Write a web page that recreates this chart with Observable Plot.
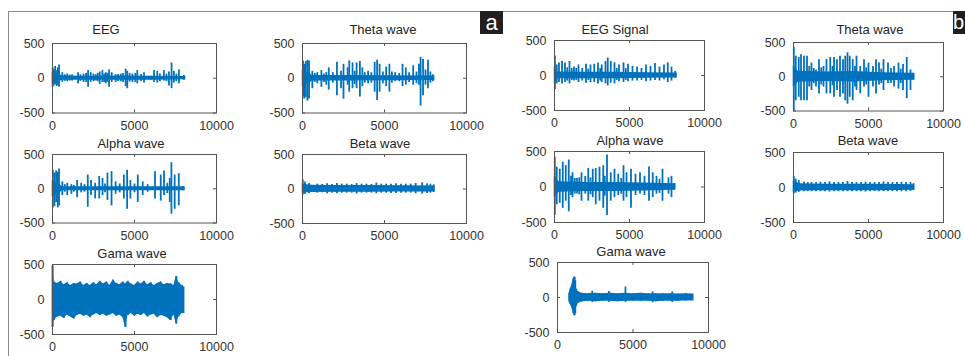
<!DOCTYPE html>
<html><head><meta charset="utf-8">
<script src="https://cdn.jsdelivr.net/npm/d3@7"></script>
<script src="https://cdn.jsdelivr.net/npm/@observablehq/plot@0.6"></script>
<style>
body{margin:0;background:#fff;}
#fig{position:relative;width:965px;height:356px;overflow:hidden;font-family:"Liberation Sans",Arial,sans-serif;background:#fff;}
.sub{position:absolute;}
.sub svg{overflow:visible;}
.ttl{position:absolute;font-size:13px;line-height:13px;color:#262626;transform:translate(-50%,-50%);white-space:nowrap;}
.ln{position:absolute;background:#8a8a8a;}
.tag{position:absolute;background:#231f20;color:#fff;font-size:22px;line-height:23px;text-align:center;width:23px;height:23px;}
</style></head>
<body><div id="fig"></div>
<script>
// ---------- data ----------
const xTicks = [0, 5000, 10000];
const yTicks = [-500, 0, 500];
const titles = ["EEG", "Theta wave", "Alpha wave", "Beta wave", "Gama wave",
                "EEG Signal", "Theta wave", "Alpha wave", "Beta wave", "Gama wave"];
const panelTags = ["a", "b"];

// each entry: [sample index, upper envelope, lower envelope]
const eegA_core = [[0,90,-80],[400,60,-50],[600,32,-28],[2000,30,-28],[4000,32,-30],[6000,28,-28],[8050,25,-22]];
const eegA_spikes = [[10,150,-130],[80,120,-110],[160,170,-90],[250,110,-120],[330,150,-100],[400,190,-130],[600,80,-60],[750,50,-45],[900,60,-50],[1050,45,-40],[1200,50,-40],[1560,80,-80],[1700,50,-45],[1890,60,-60],[2050,70,-60],[2170,110,-130],[2330,80,-60],[2500,60,-50],[2640,50,-40],[2760,70,-50],[2880,90,-90],[3040,110,-60],[3150,60,-60],[3250,80,-80],[3350,70,-60],[3450,120,-130],[3610,80,-60],[3850,50,-60],[4000,55,-45],[4160,60,-50],[4300,70,-60],[4460,130,-120],[4560,100,-150],[4700,70,-55],[4870,60,-60],[5050,70,-60],[5170,110,-80],[5400,55,-45],[5580,80,-70],[6190,110,-60],[6390,100,-70],[6550,60,-50],[6790,110,-40],[6950,60,-50],[7100,90,-110],[7260,220,-150],[7400,100,-70],[7550,60,-50],[7710,120,-80],[8010,40,-30]];

const thetaA_core = [[0,120,-120],[450,60,-60],[600,40,-40],[3000,40,-40],[5000,35,-35],[8000,32,-32]];
const thetaA_spikes = [[30,250,-260],[100,200,-300],[200,240,-280],[300,260,-330],[400,250,-300],[600,100,-150],[750,70,-60],[900,80,-80],[1150,110,-130],[1300,60,-60],[1450,80,-100],[1600,150,-170],[1850,80,-70],[2100,230,-250],[2350,100,-150],[2500,200,-300],[2750,150,-100],[2850,250,-200],[3050,220,-150],[3180,100,-90],[3300,220,-150],[3500,240,-270],[3650,150,-120],[3800,80,-70],[4000,100,-80],[4200,80,-70],[4400,230,-200],[4550,260,-320],[4700,200,-200],[4900,90,-80],[5100,160,-120],[5300,200,-200],[5450,90,-70],[5650,80,-50],[5900,70,-50],[6100,200,-120],[6300,150,-100],[6500,80,-60],[6750,180,-100],[6950,90,-80],[7100,200,-100],[7200,300,-400],[7350,270,-250],[7500,120,-100],[7650,260,-150],[7800,90,-70],[7950,50,-50]];

const alphaA_core = [[0,120,-120],[450,50,-50],[600,28,-28],[4000,28,-28],[8000,28,-28]];
const alphaA_spikes = [[20,270,-280],[120,230,-260],[220,260,-200],[320,240,-280],[400,290,-250],[600,100,-100],[750,60,-50],[900,80,-100],[1150,60,-80],[1300,50,-50],[1500,120,-130],[1750,80,-60],[1950,60,-50],[2150,200,-270],[2350,120,-100],[2600,80,-150],[2850,180,-150],[3050,150,-100],[3200,70,-60],[3350,230,-170],[3600,250,-250],[3850,100,-80],[4100,70,-60],[4350,200,-150],[4550,270,-300],[4750,120,-150],[5000,70,-60],[5200,200,-200],[5500,100,-100],[5800,60,-50],[6250,250,-150],[6600,200,-180],[6800,260,-100],[7000,80,-70],[7150,150,-200],[7250,380,-370],[7450,200,-300],[7700,220,-250],[8000,30,-30]];

const betaA_core = [[0,70,-60],[500,55,-50],[2000,50,-48],[4000,50,-48],[6000,48,-45],[8000,45,-42]];
const betaA_spikes = [[20,130,-90],[150,100,-80],[400,80,-70],[900,70,-60],[1200,65,-55],[1500,75,-70],[1800,65,-60],[2100,80,-70],[2400,70,-60],[2700,70,-60],[3000,65,-60],[3300,80,-75],[3600,70,-60],[3900,70,-60],[4200,65,-60],[4500,85,-70],[4800,70,-60],[5100,70,-60],[5400,70,-65],[5700,75,-65],[6000,70,-60],[6300,70,-60],[6600,70,-60],[6900,80,-70],[7300,90,-75],[7600,75,-65],[7800,70,-60],[8000,60,-50]];

const gamaA_core = [[0,480,-400],[100,250,-300],[300,230,-250],[500,260,-240],[700,210,-270],[900,240,-220],[1100,200,-250],[1300,230,-280],[1500,220,-230],[1700,250,-210],[1900,200,-240],[2100,230,-220],[2300,200,-260],[2500,240,-220],[2700,210,-200],[2900,260,-230],[3100,220,-210],[3300,250,-240],[3500,200,-220],[3700,280,-200],[3900,230,-240],[4100,210,-220],[4300,250,-260],[4450,220,-400],[4600,260,-230],[4800,220,-200],[5000,200,-240],[5200,250,-210],[5400,220,-230],[5600,260,-200],[5800,210,-250],[6000,240,-220],[6200,200,-210],[6400,230,-260],[6600,250,-230],[6800,210,-240],[7000,230,-260],[7200,220,-300],[7400,200,-220],[7550,330,-350],[7700,240,-250],[7900,200,-200],[8000,180,-200]];
const gamaA_spikes = [[10,480,-400],[4450,220,-400],[7550,330,-350],[7200,220,-300]];

const eegB_core = [[0,120,-120],[200,50,-45],[2000,45,-45],[4000,45,-45],[6000,40,-40],[8100,35,-35]];
const eegB_spikes = [[30,280,-200],[150,150,-120],[300,180,-100],[500,200,-120],[700,180,-100],[850,110,-80],[1000,200,-120],[1150,100,-70],[1300,120,-80],[1450,100,-70],[1600,150,-100],[1850,100,-80],[2100,160,-110],[2250,90,-70],[2400,150,-100],[2650,160,-100],[2900,180,-120],[3050,100,-80],[3150,150,-100],[3400,200,-120],[3550,250,-150],[3750,200,-110],[4000,180,-120],[4150,100,-70],[4300,150,-90],[4600,180,-100],[4750,100,-70],[4900,160,-90],[5200,130,-80],[5500,120,-80],[5800,100,-70],[6100,150,-90],[6400,130,-80],[6700,170,-70],[7000,120,-80],[7300,150,-60],[7550,180,-100],[7800,120,-80],[8050,60,-40]];

const thetaB_core = [[0,150,-150],[300,80,-80],[2000,70,-70],[4000,75,-75],[6000,60,-60],[8000,50,-50]];
const thetaB_spikes = [[20,430,-500],[150,300,-350],[350,280,-300],[500,320,-350],[700,300,-350],[900,300,-350],[1050,150,-150],[1200,200,-200],[1350,120,-100],[1500,100,-150],[1700,250,-250],[1850,130,-120],[2000,150,-150],[2200,250,-250],[2450,280,-250],[2600,150,-130],[2700,280,-300],[2900,250,-200],[3100,300,-300],[3300,250,-250],[3450,300,-350],[3600,350,-400],[3750,300,-300],[3950,250,-350],[4100,150,-150],[4200,300,-200],[4450,150,-250],[4700,250,-150],[4850,130,-120],[5000,200,-300],[5300,150,-150],[5500,250,-250],[5700,200,-120],[5850,110,-100],[6000,250,-200],[6300,200,-100],[6500,120,-100],[6700,150,-150],[7000,200,-180],[7150,110,-100],[7300,180,-200],[7550,280,-320],[7800,100,-200],[8000,50,-50]];

const alphaB_core = [[0,150,-150],[300,75,-75],[2000,65,-65],[4000,65,-65],[6000,55,-55],[8000,45,-45]];
const alphaB_spikes = [[20,420,-400],[150,280,-250],[350,250,-230],[550,350,-300],[750,300,-200],[950,380,-350],[1100,150,-120],[1200,200,-150],[1350,120,-100],[1500,120,-100],[1650,130,-110],[1800,200,-200],[2050,150,-100],[2250,260,-200],[2400,130,-110],[2550,250,-150],[2750,260,-250],[3000,280,-200],[3250,300,-300],[3350,150,-130],[3500,450,-400],[3750,200,-200],[4000,250,-150],[4250,180,-120],[4450,120,-100],[4600,300,-200],[4800,200,-150],[5100,250,-300],[5400,180,-120],[5700,200,-100],[6000,150,-120],[6300,280,-200],[6550,200,-150],[6800,150,-100],[7000,110,-90],[7200,250,-200],[7600,130,-100],[7800,150,-150],[8000,50,-40]];

const betaB_core = [[0,90,-70],[400,55,-50],[2000,45,-45],[4000,45,-45],[6000,45,-45],[8000,40,-40]];
const betaB_spikes = [[20,160,-90],[150,120,-80],[350,100,-70],[700,80,-60],[950,70,-60],[1200,70,-60],[1500,70,-60],[1800,75,-60],[2100,70,-60],[2400,80,-65],[2700,70,-60],[3000,70,-60],[3300,70,-60],[3600,85,-60],[3900,70,-60],[4200,70,-60],[4500,70,-60],[4800,75,-65],[5100,70,-60],[5400,70,-55],[5700,70,-60],[6000,80,-60],[6300,70,-60],[6600,70,-60],[6900,70,-60],[7200,75,-60],[7500,70,-60],[7800,70,-55],[8000,55,-45]];

const gamaB_core = [[770,60,-60],[850,120,-100],[950,180,-150],[1050,270,-230],[1150,290,-260],[1250,120,-130],[1400,80,-80],[1600,60,-65],[2000,55,-55],[2500,60,-60],[3000,55,-55],[3500,60,-55],[4000,55,-60],[4500,60,-55],[5000,55,-55],[5500,60,-55],[6000,55,-55],[6500,55,-60],[7000,55,-55],[7500,55,-55],[8000,50,-55],[8500,55,-50],[8960,50,-50]];
const gamaB_spikes = [[1100,290,-260],[1180,240,-230],[4500,150,-70],[2300,90,-70],[3400,85,-70],[6300,80,-75],[7600,80,-70]];

const signals = [
  [eegA_core, eegA_spikes], [thetaA_core, thetaA_spikes], [alphaA_core, alphaA_spikes],
  [betaA_core, betaA_spikes], [gamaA_core, gamaA_spikes],
  [eegB_core, eegB_spikes], [thetaB_core, thetaB_spikes], [alphaB_core, alphaB_spikes],
  [betaB_core, betaB_spikes], [gamaB_core, gamaB_spikes]
];

// ---------- layout (pixels) ----------
const layout = [
  {L:52, R:216, T:42.5, B:112, tx:106, ty:29},
  {L:302, R:466, T:42.5, B:112, tx:383, ty:29},
  {L:52, R:216, T:154, B:222.5, tx:131, ty:143},
  {L:302, R:466, T:154, B:223, tx:380, ty:143},
  {L:52, R:216, T:264, B:334, tx:132, ty:253},
  {L:554, R:704, T:40, B:110, tx:615, ty:29},
  {L:793, R:943, T:41.5, B:110, tx:870, ty:29},
  {L:554, R:704, T:151, B:222, tx:630, ty:140},
  {L:793, R:943, T:152, B:222, tx:868, ty:140},
  {L:557, R:708, T:262, B:332, tx:631, ty:251}
];
const BLUE = "#0072BD";
const fig = document.getElementById("fig");
const ml = 40, mr = 10, mt = 6, mb = 24;

layout.forEach((p, i) => {
  const [core, spikes] = signals[i];
  const w = p.R - p.L, h = p.B - p.T;
  const chart = Plot.plot({
    width: w + ml + mr, height: h + mt + mb,
    marginLeft: ml, marginRight: mr, marginTop: mt, marginBottom: mb,
    style: {fontFamily: "'Liberation Sans', Arial, sans-serif", fontSize: "12.5px", color: "#333", background: "transparent", overflow: "visible"},
    x: {domain: [0, 10000]},
    y: {domain: [-500, 500]},
    marks: [
      Plot.areaY(core, {x: d => d[0], y1: d => d[2], y2: d => d[1], fill: BLUE, fillOpacity: 1}),
      Plot.ruleX(core, {x: d => d[0], y1: d => d[2], y2: d => d[1], stroke: BLUE, strokeWidth: 1.5}),
      Plot.ruleX(spikes, {x: d => d[0], y1: d => d[2], y2: d => d[1], stroke: BLUE, strokeWidth: 1.8}),
      Plot.frame({stroke: "#555", strokeWidth: 1}),
      Plot.ruleX(xTicks, {insetTop: h - 3, stroke: "#555"}),
      Plot.ruleX(xTicks, {insetBottom: h - 3, stroke: "#555"}),
      Plot.ruleY(yTicks, {insetRight: w - 3, stroke: "#555"}),
      Plot.ruleY(yTicks, {insetLeft: w - 3, stroke: "#555"}),
      Plot.axisX(xTicks, {tickSize: 0, tickPadding: 8, tickFormat: d => String(d), fill: "#333"}),
      Plot.axisY(yTicks, {tickSize: 0, tickPadding: 8, tickFormat: d => String(d), fill: "#333"})
    ]
  });
  const div = document.createElement("div");
  div.className = "sub";
  div.style.left = (p.L - ml) + "px";
  div.style.top = (p.T - mt) + "px";
  div.appendChild(chart);
  fig.appendChild(div);
  const t = document.createElement("div");
  t.className = "ttl";
  t.textContent = titles[i];
  t.style.left = p.tx + "px";
  t.style.top = p.ty + "px";
  fig.appendChild(t);
});

// panel frame lines and tags
function addBox(cls, l, t, w, h) {
  const d = document.createElement("div");
  d.className = cls;
  Object.assign(d.style, {left: l + "px", top: t + "px", width: w + "px", height: h + "px"});
  fig.appendChild(d);
  return d;
}
addBox("ln", 8, 11, 945, 1.3);
addBox("ln", 7.5, 11, 1.3, 345);
const tagA = addBox("tag", 480, 11, 23, 23); tagA.textContent = panelTags[0];
const tagB = addBox("tag", 953, 11, 23, 23); tagB.textContent = panelTags[1];
tagB.style.textAlign = "left"; tagB.style.paddingLeft = "0px"; tagB.style.fontSize = "20px";
</script>
</body></html>
